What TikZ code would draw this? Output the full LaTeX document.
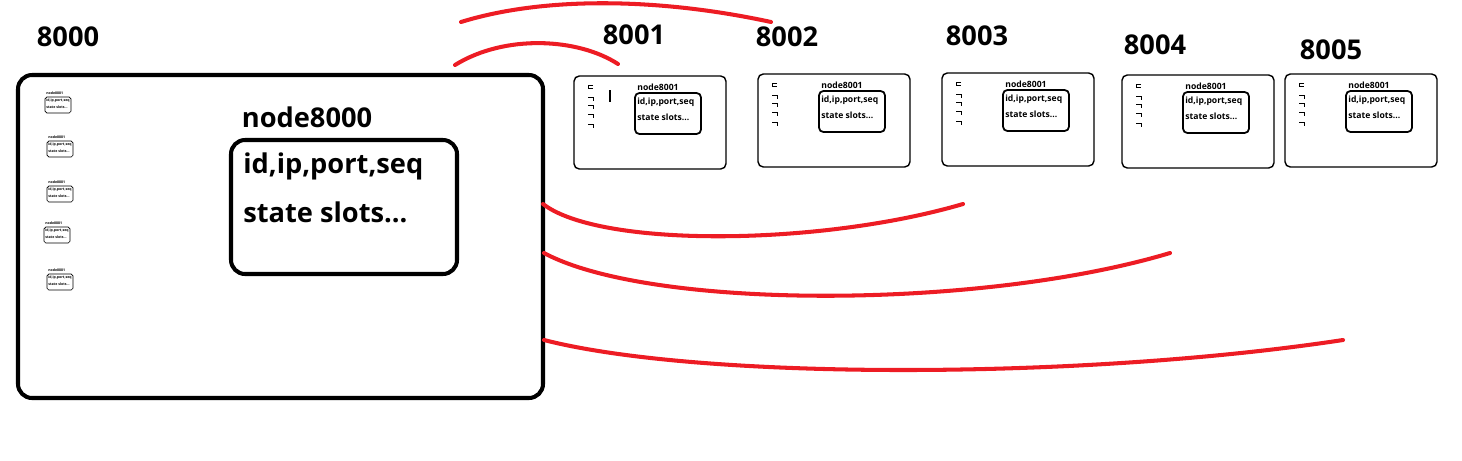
\documentclass[tikz,border=0pt]{standalone}
\usepackage{fontspec}
\setmainfont{Open Sans}
\usetikzlibrary{positioning}
\definecolor{PaintRed}{RGB}{237,28,36}
\tikzset{
  port/.style={font=\fontsize{15.5}{18}\selectfont\bfseries, inner sep=0pt},
  bigtext/.style={font=\fontsize{15.5}{18}\selectfont\bfseries, inner sep=0pt, anchor=west},
  smalltext/.style={font=\fontsize{4.9}{5.4}\selectfont\bfseries, inner sep=0pt, anchor=west},
  tinytext/.style={font=\fontsize{2}{2.4}\selectfont\bfseries, inner sep=0pt, anchor=west},
  thickbox/.style={line width=2.3pt, rounded corners=8pt},
  thinbox/.style={line width=0.8pt, rounded corners=3pt},
  link/.style={PaintRed, line width=2.3pt, line cap=round},
}
\begin{document}
\begin{tikzpicture}[x=0.02cm, y=-0.02cm]
        \useasboundingbox (0,0) rectangle (1462,460);
        %Node 8000
        \draw[thickbox] (18,75) rectangle (543,398);
        \draw[thickbox] (231,140) rectangle (457,274);
        \node[port] (l8000) at (68,37) {8000};
        \node[port] (t8000) at (307,117) {node8000};
        \node[bigtext] (a8000) at (243,166) {id,ip,port,seq};
        \node[bigtext] (b8000) at (243,212) {state slots...};
        %Mini boxes
        \foreach \i/\x/\y in {1/45/97, 2/47/141, 3/47/186, 4/44/227, 5/47/274}{
            \draw[line width=0.4pt, rounded corners=1pt] (\x,\y) rectangle ++(26,16);
            \node[tinytext] (m\i) at (\x+1,\y-4) {node8001};
            \node[tinytext] (ma\i) at (\x+1,\y+4) {id,ip,port,seq};
            \node[tinytext] (mb\i) at (\x+1,\y+10) {state slots...};
        }
        %Nodes 8001-8005
        \foreach \n/\x/\y/\lx/\ly in {8001/574/76/634/35, 8002/758/74/787/37, 8003/942/73/977/36, 8004/1122/75/1155/45, 8005/1285/74/1331/50}{
            \draw[thinbox] (\x,\y) rectangle ++(152,93);
            \draw[line width=1pt, rounded corners=2.5pt] (\x+61,\y+17) rectangle ++(66,41);
            \node[port] (l\n) at (\lx,\ly) {\n};
            \node[smalltext, anchor=center] (t\n) at (\x+84,\y+11) {node8001};
            \node[smalltext] (a\n) at (\x+63,\y+26) {id,ip,port,seq};
            \node[smalltext] (b\n) at (\x+63,\y+41) {state slots...};
            \draw[line width=0.5pt] (\x+19,\y+9) -- (\x+14,\y+9) -- (\x+14,\y+12) -- (\x+19,\y+12);
            \foreach \k in {21,29,38,48}
                \draw[line width=0.5pt] (\x+14,\y+\k) -- (\x+19,\y+\k) -- (\x+19,\y+\k+4);
        }
        \draw[line width=0.6pt] (610,90) -- (610,102);
        %Connections
        \coordinate (s1) at (455,65);  \coordinate (e1) at (618,64);
        \coordinate (s2) at (461,22);  \coordinate (e2) at (771,22);
        \coordinate (s3) at (543,204); \coordinate (e3) at (963,204);
        \coordinate (s4) at (544,253); \coordinate (e4) at (1170,253);
        \coordinate (s5) at (544,340); \coordinate (e5) at (1343,340);
        \draw[link] (s1) .. controls (505,34) and (578,38) .. (e1);
        \draw[link] (s2) .. controls (545,-4) and (660,-2) .. (e2);
        \draw[link] (s3) .. controls (600,248) and (820,246) .. (e3);
        \draw[link] (s4) .. controls (650,310) and (980,310) .. (e4);
        \draw[link] (s5) .. controls (700,380) and (1080,380) .. (e5);
    \end{tikzpicture}
\end{document}
